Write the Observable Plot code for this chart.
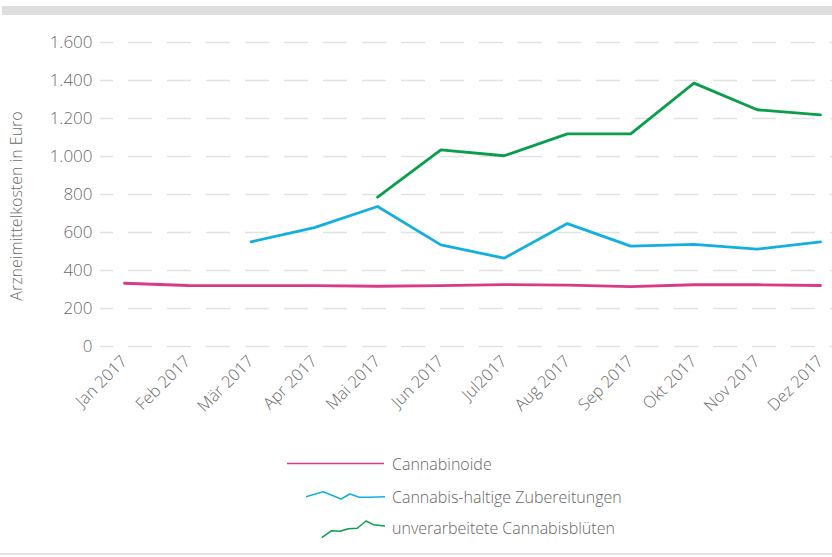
<!DOCTYPE html>
<html>
<head>
<meta charset="utf-8">
<script src="https://cdn.jsdelivr.net/npm/d3@7"></script>
<script src="https://cdn.jsdelivr.net/npm/@observablehq/plot@0.6"></script>
<style>
  html, body { margin: 0; padding: 0; background: #fff; }
  body { width: 832px; height: 557px; position: relative; overflow: hidden;
         font-family: "Open Sans", sans-serif; font-weight: 300; color: #666; }
  #topbar { position: absolute; left: 2px; top: 6px; width: 830px; height: 9px; background: #dedede; }
  #bottomline { position: absolute; left: 0; top: 553px; width: 832px; height: 2px; background: #e4e4e4; }
  #chart { position: absolute; left: 0; top: 0; }
  #legend { position: absolute; left: 0; top: 0; width: 832px; height: 557px; pointer-events: none; }
  .lg { position: absolute; left: 392px; font-size: 16px; line-height: 20px; color: #666; font-weight: 300; white-space: nowrap; }
</style>
</head>
<body>
<div id="topbar"></div>
<div id="chart"></div>
<svg id="legend" width="832" height="557"></svg>
<div id="bottomline"></div>
<script>
// ---- data ----
const months = ["Jan 2017","Feb 2017","Mär 2017","Apr 2017","Mai 2017","Jun 2017","Jul2017","Aug 2017","Sep 2017","Okt 2017","Nov 2017","Dez 2017"];
const cannabinoide = [333, 321, 320, 320, 317, 320, 326, 323, 315, 325, 325, 321];
const zubereitungen = [null, null, 551, 626, 737, 535, 465, 647, 528, 537, 512, 551];
const blueten = [null, null, null, null, 786, 1035, 1004, 1119, 1119, 1386, 1246, 1219];
const seriesNames = ["Cannabinoide", "Cannabis-haltige Zubereitungen", "unverarbeitete Cannabisblüten"];
const seriesColors = ["#d93a87", "#14afdf", "#0a9e4c"];
const yTicks = [0, 200, 400, 600, 800, 1000, 1200, 1400, 1600];
const yLabel = "Arzneimittelkosten in Euro";

const seriesValues = [cannabinoide, zubereitungen, blueten];
const rows = [];
seriesValues.forEach((vals, s) => vals.forEach((v, i) => rows.push({i, v, s: seriesNames[s]})));

const de = d3.formatLocale({decimal: ",", thousands: ".", grouping: [3], currency: ["", " €"]});
const fmt = de.format(",");

const step = 63.27;
const chart = Plot.plot({
  width: 832,
  height: 420,
  marginTop: 42,
  marginBottom: 74,
  marginLeft: 100,
  marginRight: 0,
  style: {fontFamily: "'Open Sans', sans-serif", fontSize: "16px", fontWeight: 300, color: "#6a6a6a", background: "transparent", overflow: "visible"},
  x: {type: "linear", domain: [-24 / step, 11 + 12 / step]},
  y: {domain: [0, 1600]},
  marks: [
    Plot.ruleY(yTicks, {stroke: "#e2e2e2", strokeWidth: 1.6, strokeDasharray: "24,15", strokeDashoffset: 11}),
    Plot.axisY(yTicks, {tickSize: 0, tickPadding: 8, tickFormat: fmt, label: null, fontSize: 17, fill: "currentColor"}),
    Plot.axisX(d3.range(months.length), {tickSize: 0, tickPadding: 12, tickRotate: -45, tickFormat: i => months[i], label: null, fontSize: 16.5, fill: "currentColor"}),
    ...seriesNames.map((name, s) =>
      Plot.line(rows.filter(r => r.s === name), {x: "i", y: "v", stroke: seriesColors[s], strokeWidth: 2.8, strokeLinejoin: "round", curve: "linear"})
    )
  ]
});
document.getElementById("chart").appendChild(chart);

// y-axis title
d3.select(chart).append("text")
  .attr("transform", "translate(22,206) rotate(-90)")
  .attr("text-anchor", "middle")
  .attr("fill", "#6a6a6a")
  .style("font-size", "16px")
  .style("font-weight", 300)
  .text(yLabel);

// legend
const lg = d3.select("#legend");
const glyphs = [
  [[287,463.5],[384,463.5]],
  [[306,496.7],[323.3,491.7],[341,499],[350,494],[359.3,497.3],[370,497.3],[385,496.7]],
  [[321.7,537.7],[331.7,530.7],[340,531.3],[348.3,528.7],[357.3,528.3],[366,521],[373.3,524.7],[385,526]]
];
const textY = [464, 497, 528];
glyphs.forEach((pts, s) => {
  lg.append("polyline").attr("points", pts.map(p => p.join(",")).join(" "))
    .attr("fill", "none").attr("stroke", seriesColors[s]).attr("stroke-width", 1.5).attr("stroke-linejoin", "round");
  const d = document.createElement("div");
  d.className = "lg";
  d.style.top = (textY[s] - 10) + "px";
  d.textContent = seriesNames[s];
  document.body.appendChild(d);
});
</script>
</body>
</html>
